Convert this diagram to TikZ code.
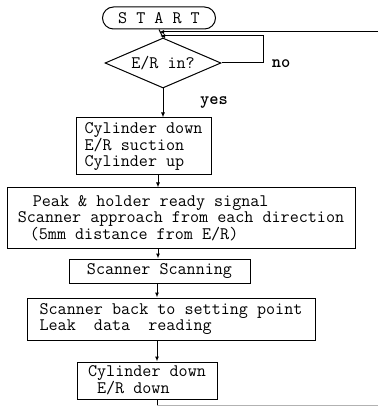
\documentclass[tikz,border=0pt]{standalone}
\usepackage{fontspec}
\usetikzlibrary{arrows.meta,positioning,shapes.geometric}

\begin{document}
\begin{tikzpicture}[x=1pt,y=-1pt,
  every node/.style={font=\ttfamily\fontsize{17.6}{16}\selectfont},
  box/.style={draw,line width=1pt,align=left,inner sep=0pt},
  flow/.style={line width=1pt,-{Latex[length=5pt,width=4pt]}}]
  \useasboundingbox (0,0) rectangle (378,411);
  \node[box,rounded corners=11pt,minimum width=113pt,minimum height=22pt] (start) at (159,18) {S T A R T};
  \node[draw,line width=1pt,diamond,aspect=2.3,inner sep=0pt,minimum width=116pt,minimum height=50pt] (test) at (163,63) {E/R in?};
  \node[box,minimum width=135pt,minimum height=57pt] (suck) at (143.5,146.5) {Cylinder down\\E/R suction\\Cylinder up};
  \node[box,minimum width=348pt,minimum height=60pt] (appr) at (181,218) {\hspace*{15pt}Peak \& holder ready signal\\Scanner approach from each direction\\\hspace*{12pt}(5mm distance from E/R)};
  \node[box,minimum width=181pt,minimum height=24pt] (scan) at (159.5,271) {Scanner Scanning};
  \node[box,minimum width=288pt,minimum height=42pt] (back) at (171,319) {Scanner back to setting point\\Leak\ \ data\ \ reading};
  \node[box,minimum width=140pt,minimum height=37pt] (down) at (147,380.5) {Cylinder down\\\hspace*{9pt}E/R down};
  \node[font=\ttfamily\bfseries\fontsize{17.6}{16}\selectfont] (yes) at (214,103) {yes};
  \node[font=\ttfamily\bfseries\fontsize{17.6}{16}\selectfont] (no) at (281,64) {no};
  \coordinate (retin) at (378,32);
  \coordinate (retout) at (378,405);
  \coordinate (loop) at (263,63);
  \coordinate (join) at (160,36);
  \coordinate (bend) at (157,405);
  \draw[flow] (retin) -- (start.south |- retin);
  \draw[line width=1pt] (start.south) -- (test.north);
  \draw[flow] (test.east) -- (loop) |- (join);
  \draw[flow] (test.south) -- (test.south |- suck.north);
  \draw[flow] (158,0 |- suck.south) -- (158,0 |- appr.north);
  \draw[flow] (158,0 |- appr.south) -- (158,0 |- scan.north);
  \draw[flow] (157,0 |- scan.south) -- (157,0 |- back.north);
  \draw[flow] (157,0 |- back.south) -- (157,0 |- down.north);
  \draw[line width=1pt] (bend |- down.south) -- (bend);
  \draw[line width=1pt,gray!60] (bend) -- (retout);
\end{tikzpicture}
\end{document}
